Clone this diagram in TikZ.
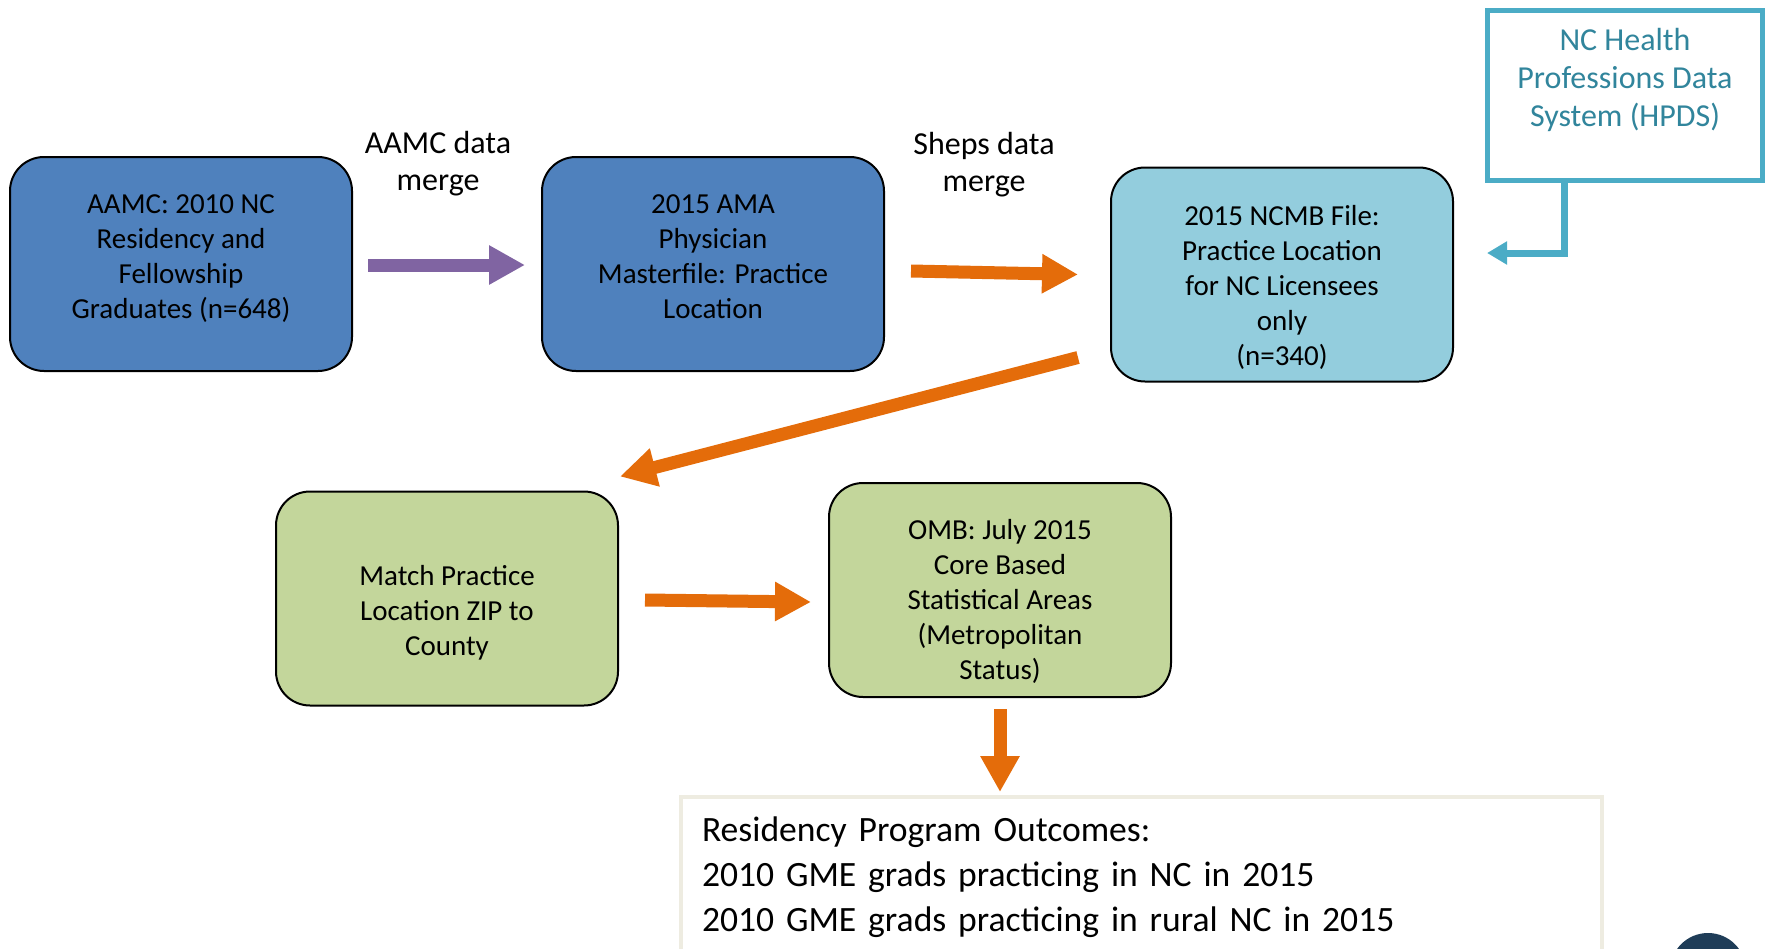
\documentclass[tikz,border=0pt]{standalone}
\usepackage{fontspec}
\setmainfont{Carlito}
\usepackage{xcolor}
\usetikzlibrary{arrows.meta,positioning}

\definecolor{boxblue}{HTML}{4F81BD}
\definecolor{boxcyan}{HTML}{93CDDD}
\definecolor{boxgreen}{HTML}{C3D69B}
\definecolor{arrorange}{HTML}{E46C0A}
\definecolor{arrpurple}{HTML}{8064A2}
\definecolor{hpdsteal}{HTML}{4BACC6}
\definecolor{hpdstext}{HTML}{31859C}
\definecolor{outline}{HTML}{EEECE1}
\definecolor{navy}{HTML}{1F3D58}

\begin{document}
\begin{tikzpicture}[
    x=0.5pt,y=-0.5pt,
    box/.style={draw,line width=1pt,rounded corners=17pt,align=center,
                minimum width=171pt,minimum height=107pt,
                inner ysep=0pt,text depth=4pt,
                font=\fontsize{14.5}{17.5}\selectfont},
    tag/.style={align=center,font=\fontsize{16}{18.5}\selectfont},
    fat/.style={line width=6.5pt,-{Triangle[length=18pt,width=18.5pt]}},
    feed/.style={line width=3.5pt,hpdsteal,-{Triangle[length=10pt,width=11pt]}}
]
\useasboundingbox (0,0) rectangle (1767,948);

% data sources and processing steps (text height sets where the last line sits)
\node[box,fill=boxblue,text height=58pt]    (aamc)  at (181,264)
    {AAMC: 2010 NC\\Residency and\\Fellowship\\Graduates (n=648)};
\node[box,fill=boxblue,text height=58pt]    (ama)   at (713,264)
    {2015 AMA\\Physician\\Masterfile: Practice\\Location};
\node[box,fill=boxcyan,text height=94.9pt]  (ncmb)  at (1282,274.5)
    {2015 NCMB File:\\Practice Location\\for NC Licensees\\only\\(n=340)};
\node[box,fill=boxgreen,text height=60.5pt] (match) at (447,598.5)
    {Match Practice\\Location ZIP to\\County};
\node[box,fill=boxgreen,text height=93.8pt] (omb)   at (1000,590)
    {OMB: July 2015\\Core Based\\Statistical Areas\\(Metropolitan\\Status)};

\node[draw=hpdsteal,line width=2.5pt,fill=white,text=hpdstext,align=center,
      minimum width=137.5pt,minimum height=85pt,text height=34.9pt,text depth=4pt,
      font=\fontsize{16}{19}\selectfont] (hpds) at (1625,95.5)
      {NC Health\\Professions Data\\System (HPDS)};

\node[draw=outline,line width=2pt,fill=white,anchor=north west,align=left,
      text width=439.5pt,inner xsep=10.5pt,inner ysep=10pt,
      font=\fontsize{17.8}{22.5}\selectfont] (outcomes) at (679,795)
      {Residency Program Outcomes:\\2010 GME grads practicing in NC in 2015\\2010 GME grads practicing in rural NC in 2015};

% merge labels
\node[tag] (aamcmerge)  at (438,164) {AAMC data\\merge};
\node[tag] (shepsmerge) at (984,165) {Sheps data\\merge};

% connectors
\draw[fat,arrpurple] ([shift={(15,1)}]aamc.east) -- ([shift={(-16,1)}]ama.west);
\draw[fat,arrorange] ([shift={(26,7)}]ama.east) -- ([shift={(-32,0)}]ncmb.west);
\draw[fat,arrorange] ([shift={(-32,-25)}]ncmb.south west) -- ([shift={(1,-14)}]match.north east);
\draw[fat,arrorange] ([shift={(26,1.5)}]match.east) -- ([shift={(-17,12)}]omb.west);
\draw[fat,arrorange] ([shift={(0,11)}]omb.south) -- ([shift={(0,-3)}]omb.south |- outcomes.north);
\draw[feed] ([shift={(-61,0)}]hpds.south) |- ([shift={(33,-21.5)}]ncmb.east);

\fill[navy] (1708,971) circle[radius=19pt];
\end{tikzpicture}
\end{document}
